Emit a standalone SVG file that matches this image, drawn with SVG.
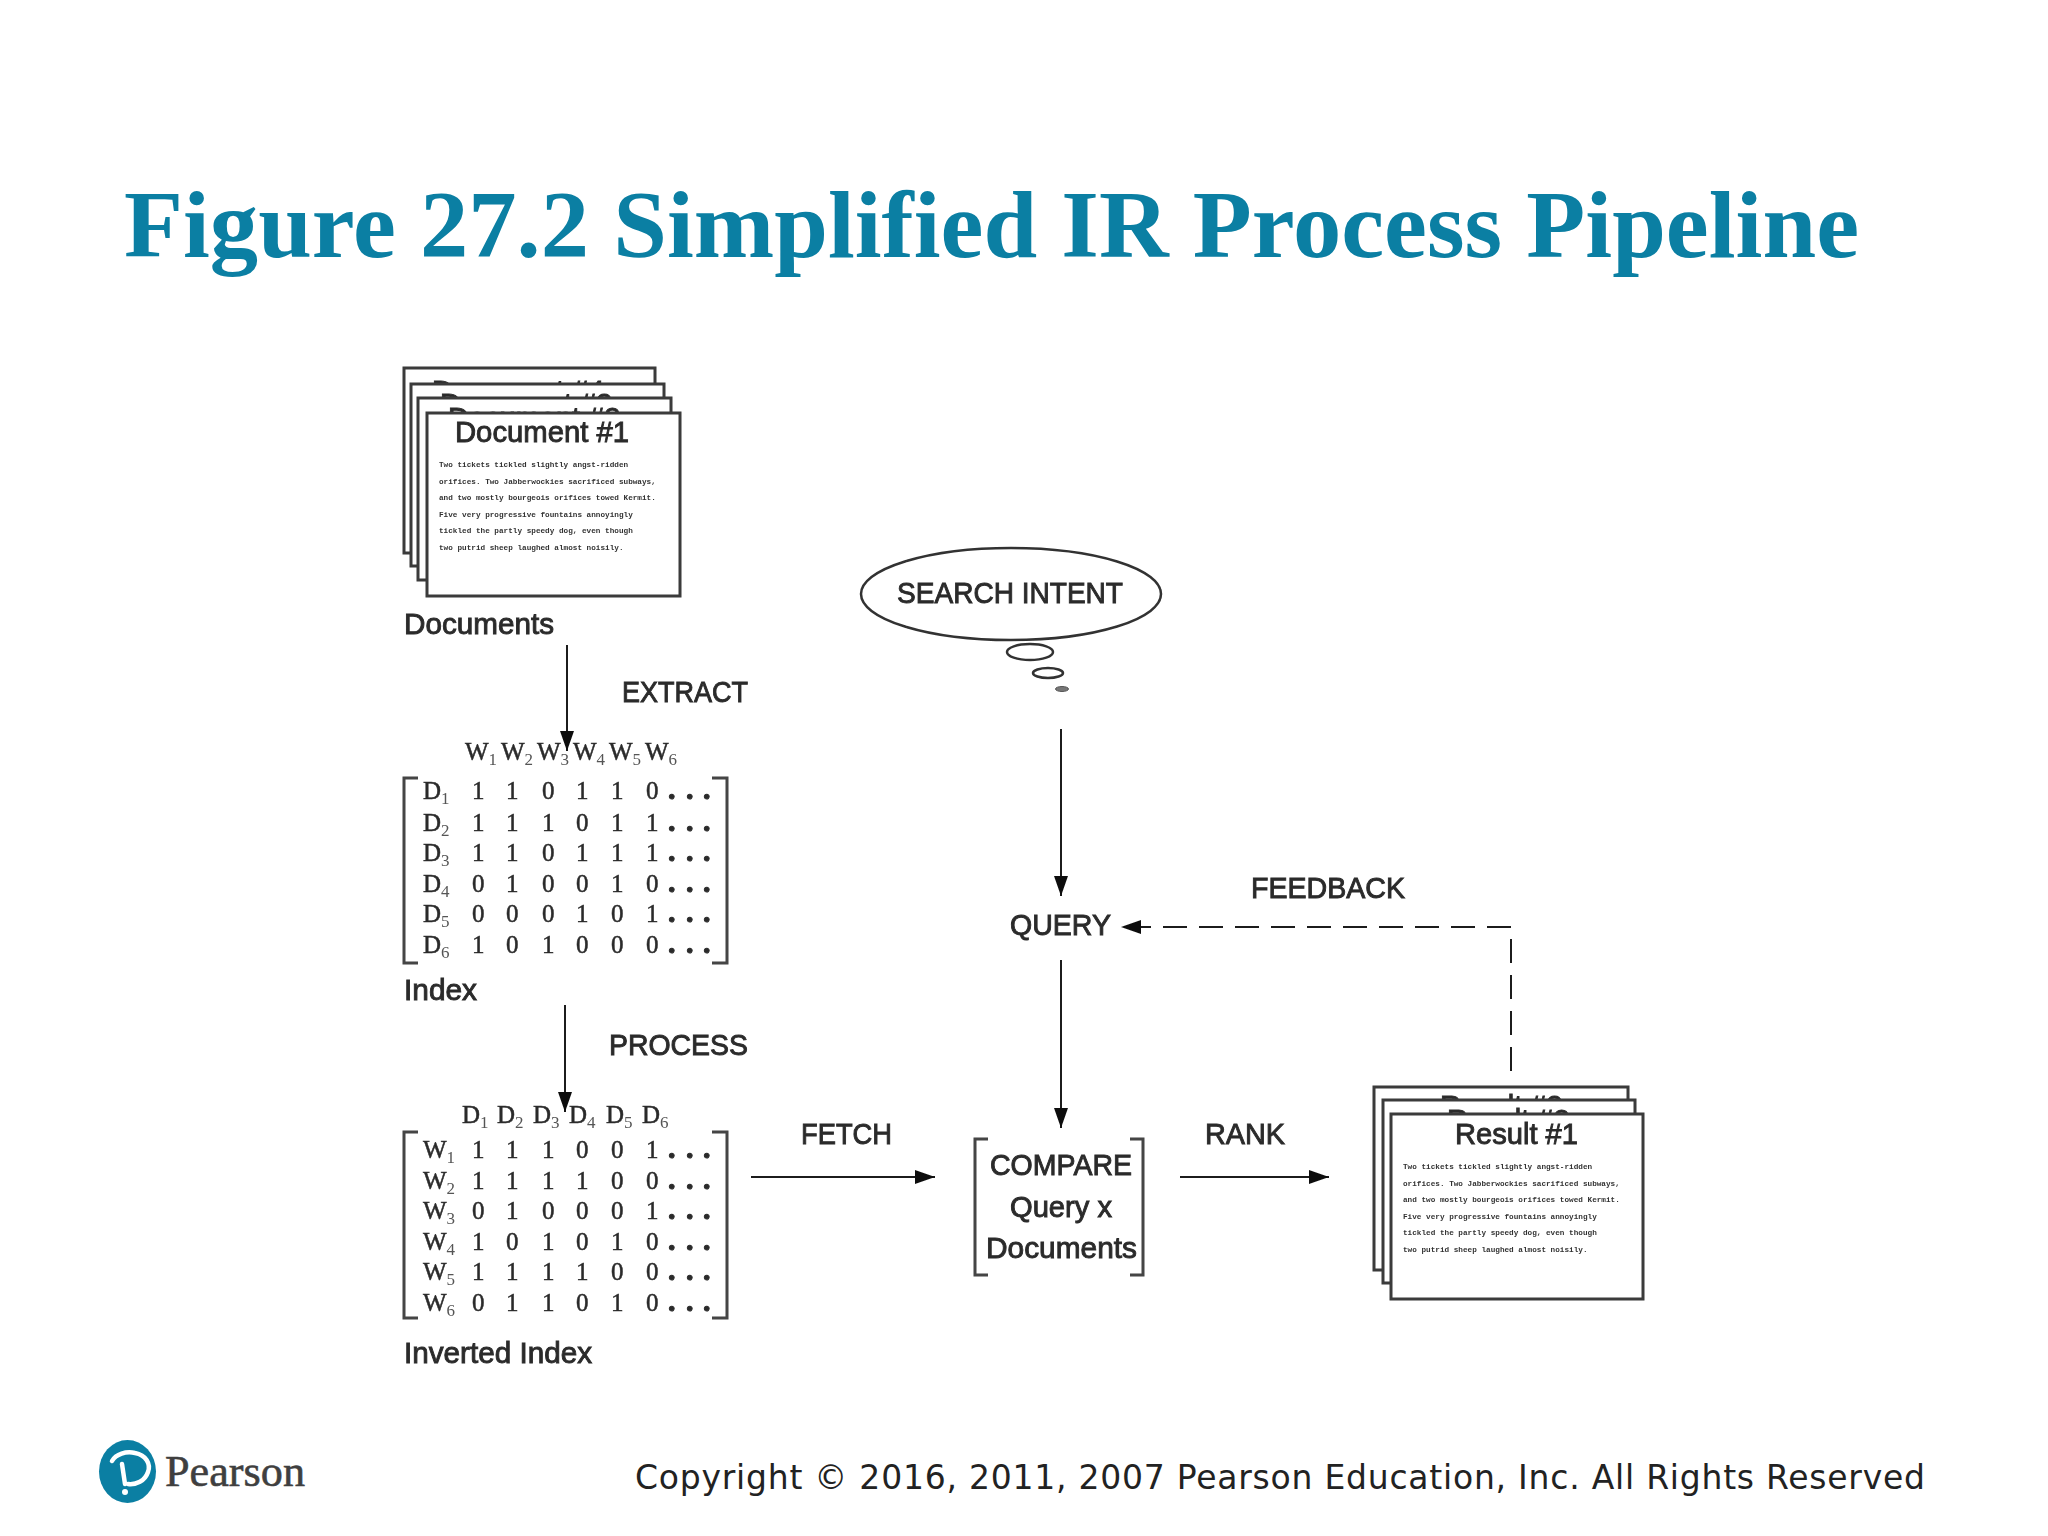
<svg xmlns="http://www.w3.org/2000/svg" width="2048" height="1536" viewBox="0 0 2048 1536">
<style>
text{fill:#2b2b2b;font-family:"Liberation Sans",Arial,sans-serif}
.title{font-family:"Liberation Serif",serif;font-weight:700;font-size:96px;fill:#0b7fa3}
.lab{font-size:29px;stroke:#2b2b2b;stroke-width:.9px}
.m{font-family:"Liberation Serif",serif;font-size:25px;stroke:#2b2b2b;stroke-width:.5px}
.s{font-size:17px;fill:#555;stroke:none}
.d{font-weight:700;font-size:30px;stroke-width:1px}
.tiny{font-family:"Liberation Mono",monospace;font-size:7.7px;font-weight:700;fill:#333}
.sheet{fill:#fff;stroke:#3a3a3a;stroke-width:3}
.br{fill:none;stroke:#444;stroke-width:3}
.c{fill:none;stroke:#1c1c1c;stroke-width:2}
.soft{filter:url(#b)}
</style>
<defs>
<filter id="b" x="-5%" y="-5%" width="110%" height="110%"><feGaussianBlur stdDeviation="0.6"/></filter>
<marker id="a" markerUnits="userSpaceOnUse" markerWidth="22" markerHeight="16" refX="20" refY="7" orient="auto"><path d="M0 0L20 7L0 14Z" fill="#111"/></marker>
<g id="tinytext"><text class="tiny" x="0" y="0">Two tickets tickled slightly angst-ridden</text><text class="tiny" x="0" y="16.6">orifices. Two Jabberwockies sacrificed subways,</text><text class="tiny" x="0" y="33.2">and two mostly bourgeois orifices towed Kermit.</text><text class="tiny" x="0" y="49.8">Five very progressive fountains annoyingly</text><text class="tiny" x="0" y="66.4">tickled the partly speedy dog, even though</text><text class="tiny" x="0" y="83">two putrid sheep laughed almost noisily.</text></g>
</defs>
<rect width="2048" height="1536" fill="#fff"/>
<text class="title" x="124" y="257" textLength="1735" lengthAdjust="spacingAndGlyphs">Figure 27.2 Simplified IR Process Pipeline</text>
<g class="soft">
<g id="documents">
<rect class="sheet" x="404" y="368" width="251" height="185"/><text class="lab" x="432" y="401">Document #4</text>
<rect class="sheet" x="411" y="384" width="253" height="182"/><text class="lab" x="440" y="414">Document #3</text>
<rect class="sheet" x="418" y="398" width="253" height="182"/><text class="lab" x="448" y="428">Document #2</text>
<rect class="sheet" x="427" y="413" width="253" height="183"/><text class="lab" x="455" y="442" textLength="174" lengthAdjust="spacingAndGlyphs">Document #1</text>
<use href="#tinytext" x="439" y="467"/>
<text class="lab" x="404" y="634" textLength="150" lengthAdjust="spacingAndGlyphs">Documents</text>
</g>
<g id="index">
<text class="m" x="465" y="760">W<tspan class="s" dy="5">1</tspan></text><text class="m" x="501" y="760">W<tspan class="s" dy="5">2</tspan></text><text class="m" x="537" y="760">W<tspan class="s" dy="5">3</tspan></text><text class="m" x="573" y="760">W<tspan class="s" dy="5">4</tspan></text><text class="m" x="609" y="760">W<tspan class="s" dy="5">5</tspan></text><text class="m" x="645" y="760">W<tspan class="s" dy="5">6</tspan></text>
<path class="br" d="M418 778H404V963H418M712 778H727V963H712"/>
<text class="m" x="423" y="799">D<tspan class="s" dy="5">1</tspan></text><text class="m" x="472 506 542 576 611 646 668 686 703" y="799">110110<tspan class="d">...</tspan></text>
<text class="m" x="423" y="831">D<tspan class="s" dy="5">2</tspan></text><text class="m" x="472 506 542 576 611 646 668 686 703" y="831">111011<tspan class="d">...</tspan></text>
<text class="m" x="423" y="861">D<tspan class="s" dy="5">3</tspan></text><text class="m" x="472 506 542 576 611 646 668 686 703" y="861">110111<tspan class="d">...</tspan></text>
<text class="m" x="423" y="892">D<tspan class="s" dy="5">4</tspan></text><text class="m" x="472 506 542 576 611 646 668 686 703" y="892">010010<tspan class="d">...</tspan></text>
<text class="m" x="423" y="922">D<tspan class="s" dy="5">5</tspan></text><text class="m" x="472 506 542 576 611 646 668 686 703" y="922">000101<tspan class="d">...</tspan></text>
<text class="m" x="423" y="953">D<tspan class="s" dy="5">6</tspan></text><text class="m" x="472 506 542 576 611 646 668 686 703" y="953">101000<tspan class="d">...</tspan></text>
<text class="lab" x="404" y="1000" textLength="73" lengthAdjust="spacingAndGlyphs">Index</text>
</g>
<g id="inverted-index">
<text class="m" x="462" y="1123">D<tspan class="s" dy="5">1</tspan></text><text class="m" x="497" y="1123">D<tspan class="s" dy="5">2</tspan></text><text class="m" x="533" y="1123">D<tspan class="s" dy="5">3</tspan></text><text class="m" x="569" y="1123">D<tspan class="s" dy="5">4</tspan></text><text class="m" x="606" y="1123">D<tspan class="s" dy="5">5</tspan></text><text class="m" x="642" y="1123">D<tspan class="s" dy="5">6</tspan></text>
<path class="br" d="M418 1132H404V1318H418M712 1132H727V1318H712"/>
<text class="m" x="423" y="1158">W<tspan class="s" dy="5">1</tspan></text><text class="m" x="472 506 542 576 611 646 668 686 703" y="1158">111001<tspan class="d">...</tspan></text>
<text class="m" x="423" y="1189">W<tspan class="s" dy="5">2</tspan></text><text class="m" x="472 506 542 576 611 646 668 686 703" y="1189">111100<tspan class="d">...</tspan></text>
<text class="m" x="423" y="1219">W<tspan class="s" dy="5">3</tspan></text><text class="m" x="472 506 542 576 611 646 668 686 703" y="1219">010001<tspan class="d">...</tspan></text>
<text class="m" x="423" y="1250">W<tspan class="s" dy="5">4</tspan></text><text class="m" x="472 506 542 576 611 646 668 686 703" y="1250">101010<tspan class="d">...</tspan></text>
<text class="m" x="423" y="1280">W<tspan class="s" dy="5">5</tspan></text><text class="m" x="472 506 542 576 611 646 668 686 703" y="1280">111100<tspan class="d">...</tspan></text>
<text class="m" x="423" y="1311">W<tspan class="s" dy="5">6</tspan></text><text class="m" x="472 506 542 576 611 646 668 686 703" y="1311">011010<tspan class="d">...</tspan></text>
<text class="lab" x="404" y="1363" textLength="188" lengthAdjust="spacingAndGlyphs">Inverted Index</text>
</g>
<g id="search-intent">
<ellipse cx="1011" cy="594" rx="150" ry="46" fill="#fff" stroke="#333" stroke-width="2.500"/>
<ellipse cx="1030" cy="652" rx="23" ry="8" fill="#fff" stroke="#333" stroke-width="2.500"/>
<ellipse cx="1048" cy="673" rx="15" ry="5" fill="#fff" stroke="#333" stroke-width="2.500"/>
<ellipse cx="1062" cy="689" rx="6.500" ry="2.500" fill="#777" stroke="#555"/>
<text class="lab" x="897" y="603" textLength="226" lengthAdjust="spacingAndGlyphs">SEARCH INTENT</text>
</g>
<g id="query"><text class="lab" x="1010" y="935" textLength="101" lengthAdjust="spacingAndGlyphs">QUERY</text></g>
<g id="compare">
<path class="br" d="M988 1139H975V1275H988M1130 1139H1143V1275H1130"/>
<text class="lab" x="990" y="1175" textLength="142" lengthAdjust="spacingAndGlyphs">COMPARE</text>
<text class="lab" x="1010" y="1217" textLength="102" lengthAdjust="spacingAndGlyphs">Query x</text>
<text class="lab" x="986" y="1258" textLength="151" lengthAdjust="spacingAndGlyphs">Documents</text>
</g>
<g id="results">
<rect class="sheet" x="1374" y="1087" width="254" height="183"/><text class="lab" x="1440" y="1116">Result #3</text>
<rect class="sheet" x="1383" y="1100" width="252" height="183"/><text class="lab" x="1447" y="1130">Result #2</text>
<rect class="sheet" x="1391" y="1114" width="252" height="185"/><text class="lab" x="1455" y="1144" textLength="123" lengthAdjust="spacingAndGlyphs">Result #1</text>
<use href="#tinytext" x="1403" y="1169"/>
</g>
<g id="connectors">
<path class="c" d="M567 645V751" marker-end="url(#a)"/>
<path class="c" d="M565 1005V1112" marker-end="url(#a)"/>
<path class="c" d="M1061 729V896" marker-end="url(#a)"/>
<path class="c" d="M1061 960V1128" marker-end="url(#a)"/>
<path class="c" d="M751 1177H935" marker-end="url(#a)"/>
<path class="c" d="M1180 1177H1329" marker-end="url(#a)"/>
<path class="c" d="M1511 1071V927H1121" stroke-dasharray="24 12" marker-end="url(#a)"/>
</g>
<g id="connector-labels">
<text class="lab" x="622" y="702" textLength="126" lengthAdjust="spacingAndGlyphs">EXTRACT</text>
<text class="lab" x="609" y="1055" textLength="139" lengthAdjust="spacingAndGlyphs">PROCESS</text>
<text class="lab" x="1251" y="898" textLength="154" lengthAdjust="spacingAndGlyphs">FEEDBACK</text>
<text class="lab" x="801" y="1144" textLength="91" lengthAdjust="spacingAndGlyphs">FETCH</text>
<text class="lab" x="1205" y="1144" textLength="80" lengthAdjust="spacingAndGlyphs">RANK</text>
</g>
</g>
<g id="pearson-logo">
<ellipse cx="127.500" cy="1471.500" rx="28.500" ry="31.500" fill="#0b7fa3"/>
<path d="M112 1461C116 1454 126 1451 135 1453C146 1455 151 1464 148 1472C145 1481 136 1485 128 1484M122 1464L125 1484" fill="none" stroke="#fff" stroke-width="4.500" stroke-linecap="round"/>
<circle cx="125" cy="1492" r="3" fill="#fff"/>
<text x="165" y="1486" font-size="45" textLength="140" lengthAdjust="spacingAndGlyphs" style="fill:#3f3f3f;font-family:'Liberation Serif',serif;stroke:#3f3f3f;stroke-width:.6px">Pearson</text>
</g>
<text id="copyright" x="635" y="1489" font-size="33" textLength="1290" style="font-family:'DejaVu Sans',sans-serif;fill:#222">Copyright © 2016, 2011, 2007 Pearson Education, Inc. All Rights Reserved</text>
</svg>
